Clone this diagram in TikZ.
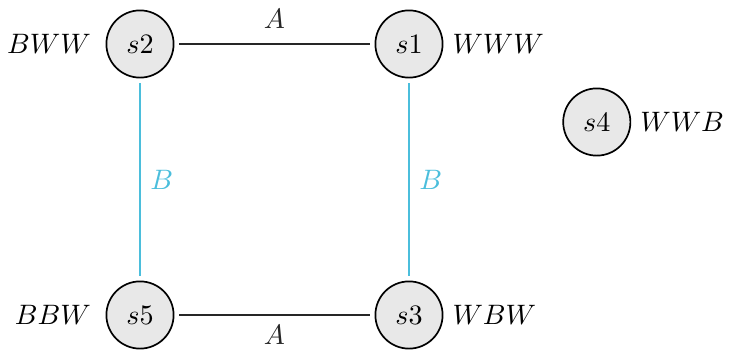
\documentclass[tikz,border=0pt]{standalone}
\usepackage{xcolor}
\usepackage{tikz}
\usetikzlibrary{positioning}
\definecolor{stfill}{RGB}{232,232,232}
\definecolor{edgecyan}{RGB}{75,190,220}
\tikzset{
  state/.style={circle, draw=black, fill=stfill, minimum size=0.84cm,
    inner sep=0pt, line width=0.6pt, outer sep=2pt},
  tag/.style={font=\normalsize},
  aedge/.style={line width=0.6pt, color=black!85},
  bedge/.style={line width=0.7pt, color=edgecyan}
}
\begin{document}
\begin{tikzpicture}
  \useasboundingbox (0,0) rectangle (9.1125,4.375);

  % States
  \node[state, label={[tag, label distance=0pt]left:$BWW$}] (s2) at (1.75,3.825) {$s2$};
  \node[state, label={[tag, label distance=-2pt]right:$WWW$}] (s1) at (5.1125,3.825) {$s1$};
  \node[state, label={[tag, label distance=0pt]left:$BBW$}] (s5) at (1.75,0.4375) {$s5$};
  \node[state, label={[tag, label distance=-2pt]right:$WBW$}] (s3) at (5.1125,0.4375) {$s3$};
  \node[state, label={[tag, label distance=-2pt]right:$WWB$}] (s4) at (7.46,2.85) {$s4$};

  % Transitions
  \draw[aedge] (s2) -- node[above=2pt, tag] {$A$} (s1);
  \draw[aedge] (s5) -- node[below=0pt, tag] {$A$} (s3);
  \draw[bedge] (s2) -- node[right, tag] {$B$} (s5);
  \draw[bedge] (s1) -- node[right, tag] {$B$} (s3);
\end{tikzpicture}
\end{document}
